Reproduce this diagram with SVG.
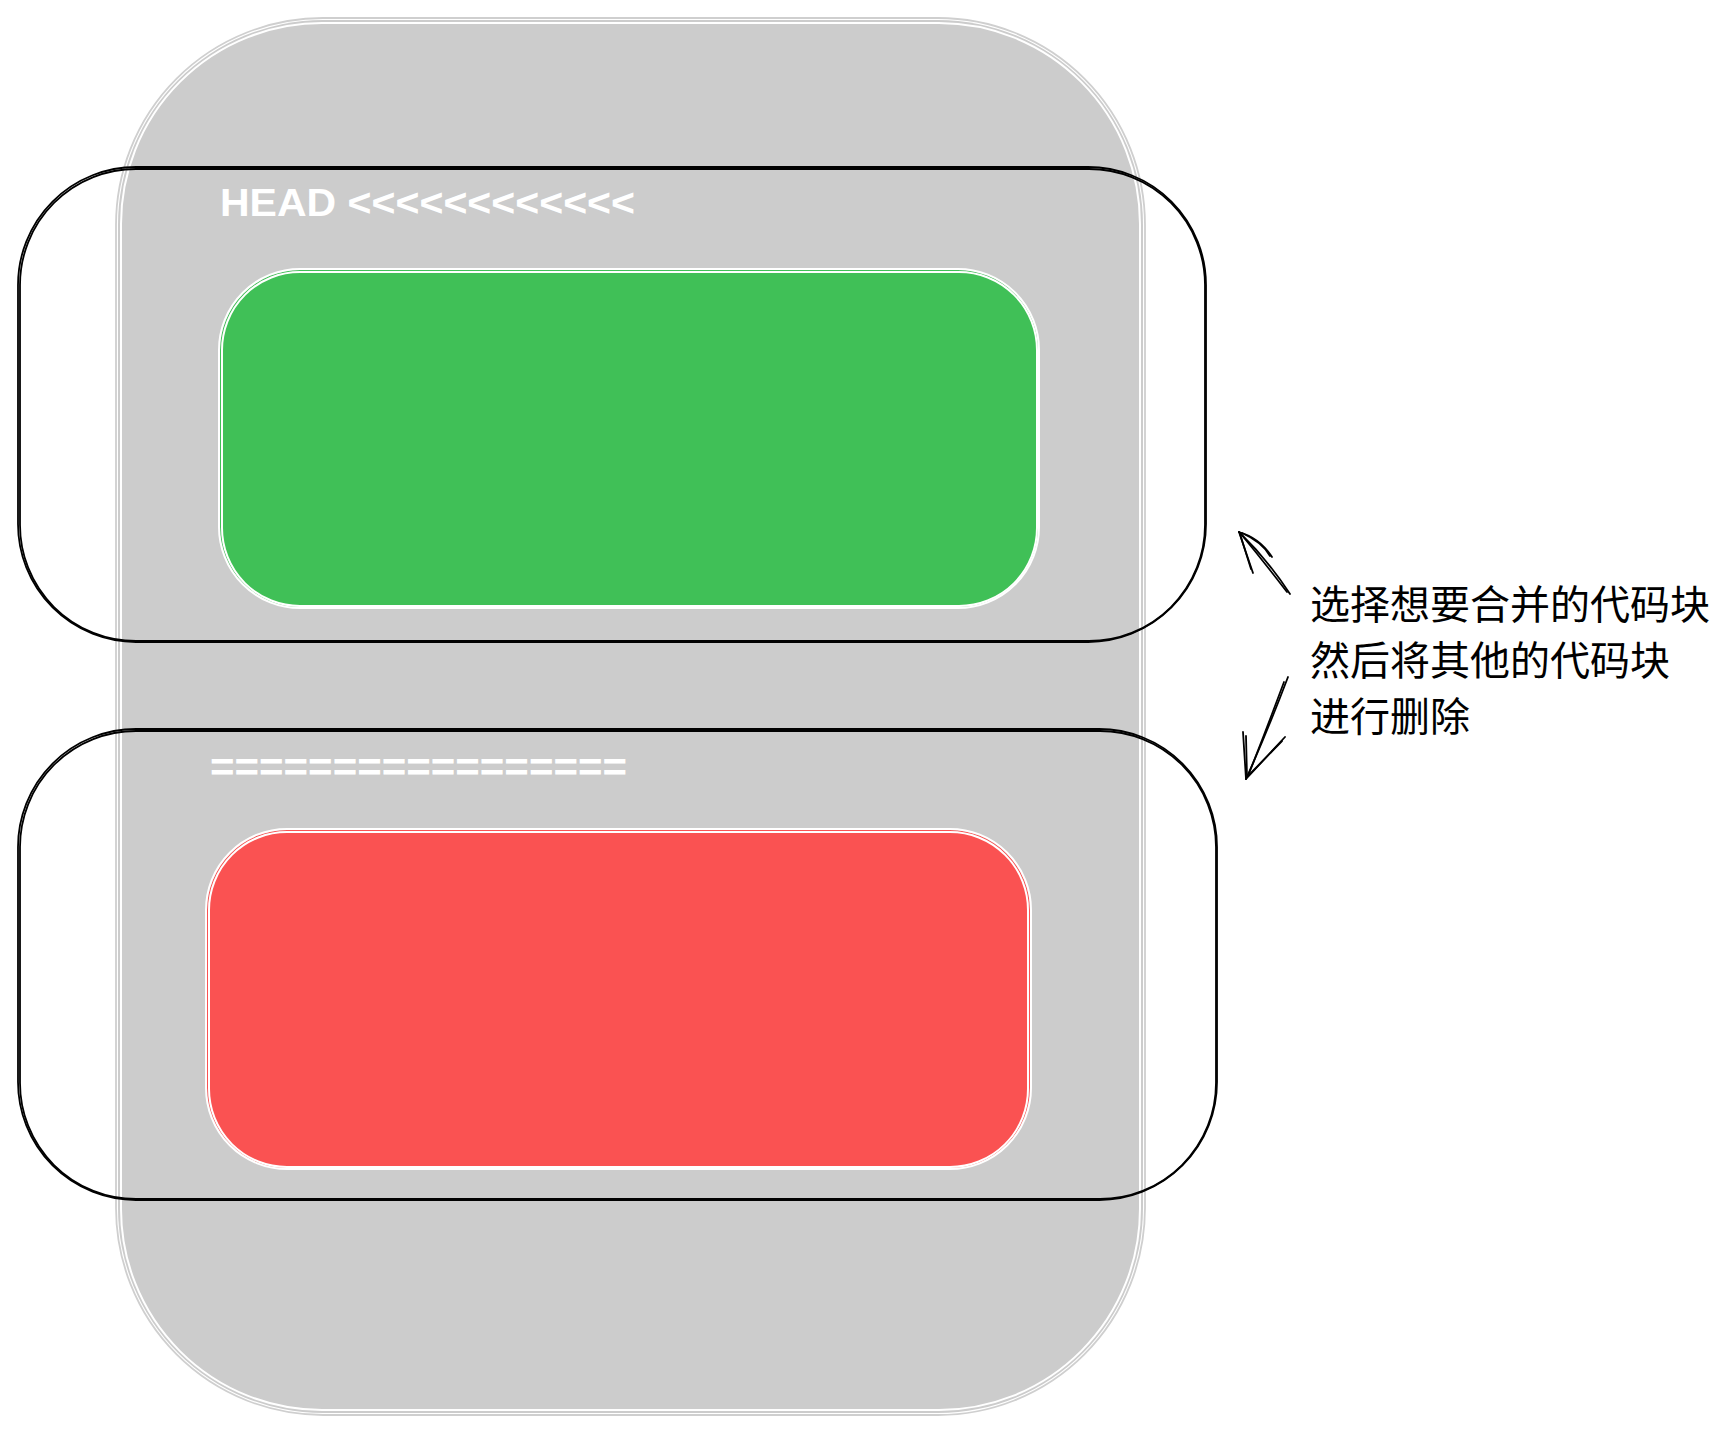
<svg xmlns="http://www.w3.org/2000/svg" width="1728" height="1433" viewBox="0 0 1728 1433">
  <style>
    .sk { fill: none; stroke-linecap: round; stroke-linejoin: round; }
    .blk { stroke: #000000; stroke-width: 1.8; }
    .wht { stroke: #ffffff; stroke-width: 2; }
    .gry { stroke: #cfcfcf; stroke-width: 1.8; }
    .hand { font-family: "Liberation Sans", "DejaVu Sans", sans-serif; fill: #ffffff; font-weight: bold; }
    .cjk { font-family: "Noto Sans CJK SC", "Noto Sans", sans-serif; font-size: 40px; fill: #000000; }
  </style>
  <rect width="1728" height="1433" fill="#ffffff"/>

  <g id="container">
    <rect x="118" y="20" width="1025" height="1393" rx="205" ry="205" fill="#cccccc"/>
    <rect class="sk gry" x="116" y="18" width="1029" height="1397" rx="207" ry="207"/>
    <rect class="sk wht" x="121" y="23" width="1019" height="1387" rx="201" ry="201" stroke-width="1.5"/>
  </g>

  <g id="head-label">
    <text class="hand" x="220" y="216" font-size="38" textLength="415" lengthAdjust="spacingAndGlyphs">HEAD &lt;&lt;&lt;&lt;&lt;&lt;&lt;&lt;&lt;&lt;&lt;&lt;</text>
  </g>

  <g id="green-block">
    <rect x="220" y="270" width="818" height="337" rx="80" ry="80" fill="#40c057"/>
    <rect class="sk wht" x="219" y="269" width="820" height="339" rx="81" ry="81"/>
    <rect class="sk wht" x="222" y="272" width="815" height="334" rx="78" ry="78" stroke-width="1.4"/>
  </g>

  <g id="separator-label">
    <text class="hand" x="210" y="781" font-size="40" textLength="417" lengthAdjust="spacingAndGlyphs">=================</text>
  </g>

  <g id="red-block">
    <rect x="207" y="830" width="823" height="338" rx="80" ry="80" fill="#fa5252"/>
    <rect class="sk wht" x="206" y="829" width="825" height="340" rx="81" ry="81"/>
    <rect class="sk wht" x="209" y="832" width="819" height="335" rx="78" ry="78" stroke-width="1.4"/>
  </g>

  <g id="selection-head">
    <rect class="sk blk" x="18" y="167" width="1188" height="475" rx="118" ry="118"/>
    <rect class="sk blk" x="20" y="169" width="1185" height="472" rx="116" ry="116" stroke-width="1.2"/>
  </g>

  <g id="selection-other">
    <rect class="sk blk" x="18" y="729" width="1199" height="471" rx="118" ry="118"/>
    <rect class="sk blk" x="20" y="731" width="1196" height="468" rx="116" ry="116" stroke-width="1.2"/>
  </g>

  <g id="note">
    <text class="cjk" x="1310" y="619">选择想要合并的代码块</text>
    <text class="cjk" x="1310" y="675">然后将其他的代码块</text>
    <text class="cjk" x="1310" y="731">进行删除</text>
  </g>

  <g id="connectors">
    <path class="sk blk" d="M1290 594 Q1268 560 1239 532"/>
    <path class="sk blk" d="M1287 592 Q1264 562 1241 534" stroke-width="1.2"/>
    <path class="sk blk" d="M1239 532 L1253 573"/>
    <path class="sk blk" d="M1240 534 L1251 569" stroke-width="1.2"/>
    <path class="sk blk" d="M1239 532 Q1260 538 1272 557"/>
    <path class="sk blk" d="M1242 533 Q1262 542 1270 556" stroke-width="1.2"/>

    <path class="sk blk" d="M1288 677 Q1268 730 1246 779"/>
    <path class="sk blk" d="M1284 682 Q1265 733 1248 776" stroke-width="1.2"/>
    <path class="sk blk" d="M1246 779 L1243 732"/>
    <path class="sk blk" d="M1247 777 L1246 736" stroke-width="1.2"/>
    <path class="sk blk" d="M1246 779 L1285 737"/>
    <path class="sk blk" d="M1248 776 L1282 741" stroke-width="1.2"/>
  </g>
</svg>
